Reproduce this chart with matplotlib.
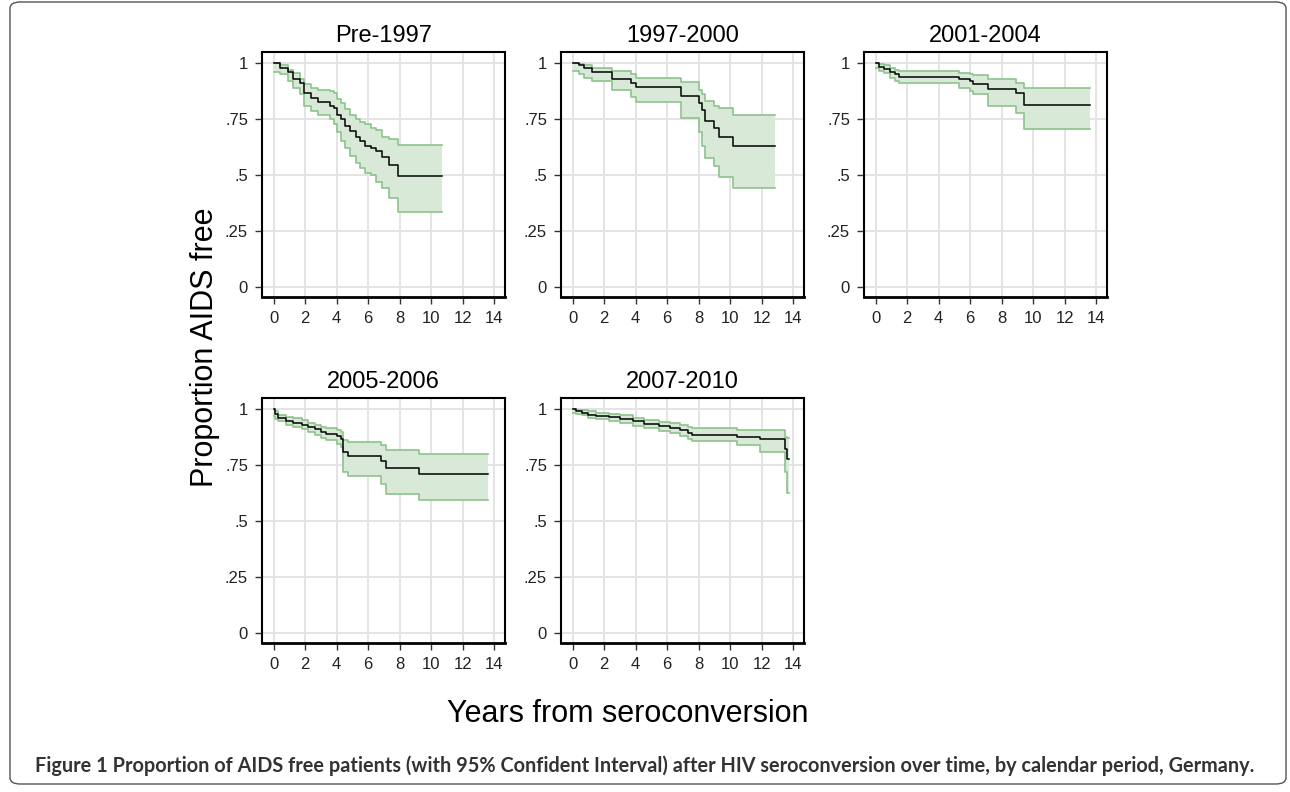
import numpy as np
import matplotlib.pyplot as plt
from matplotlib.patches import FancyBboxPatch

# Kaplan-Meier estimates (step start times, survival, 95% CI)
periods = ["Pre-1997", "1997-2000", "2001-2004", "2005-2006", "2007-2010"]

t_pre97 = [0, 0.4, 0.9, 1.25, 1.7, 1.9, 2.4, 2.8, 3.6, 3.8, 4.05, 4.3, 4.5, 4.85, 5.2, 5.5, 5.8, 6.2, 6.5, 6.9, 7.35, 7.9, 10.7]
s_pre97 = [1, 0.98, 0.96, 0.93, 0.91, 0.865, 0.845, 0.825, 0.81, 0.80, 0.77, 0.75, 0.72, 0.695, 0.67, 0.65, 0.63, 0.62, 0.605, 0.58, 0.545, 0.495, 0.495]
hi_pre97 = [1, 0.99, 0.97, 0.955, 0.93, 0.905, 0.89, 0.88, 0.875, 0.865, 0.84, 0.82, 0.795, 0.77, 0.75, 0.735, 0.73, 0.71, 0.70, 0.67, 0.66, 0.635, 0.635]
lo_pre97 = [0.96, 0.95, 0.92, 0.89, 0.86, 0.81, 0.785, 0.77, 0.75, 0.73, 0.69, 0.65, 0.62, 0.585, 0.555, 0.53, 0.51, 0.50, 0.47, 0.44, 0.395, 0.335, 0.335]

t_9700 = [0, 0.4, 0.7, 1.2, 2.5, 3.7, 4.0, 6.9, 8.0, 8.2, 8.4, 9.0, 9.3, 10.2, 12.85]
s_9700 = [1, 0.99, 0.98, 0.96, 0.93, 0.91, 0.895, 0.855, 0.82, 0.79, 0.74, 0.71, 0.67, 0.63, 0.63]
hi_9700 = [1, 0.995, 0.99, 0.98, 0.965, 0.95, 0.935, 0.915, 0.88, 0.86, 0.83, 0.81, 0.80, 0.77, 0.77]
lo_9700 = [0.965, 0.95, 0.935, 0.92, 0.88, 0.85, 0.828, 0.755, 0.69, 0.63, 0.575, 0.54, 0.49, 0.44, 0.44]

t_0104 = [0, 0.2, 0.5, 0.9, 1.2, 1.5, 5.3, 6.0, 6.2, 7.1, 8.9, 9.4, 13.6]
s_0104 = [1, 0.985, 0.975, 0.96, 0.95, 0.94, 0.93, 0.92, 0.905, 0.885, 0.865, 0.815, 0.815]
hi_0104 = [1, 0.995, 0.99, 0.98, 0.97, 0.963, 0.955, 0.95, 0.945, 0.93, 0.91, 0.89, 0.89]
lo_0104 = [0.978, 0.965, 0.955, 0.935, 0.92, 0.91, 0.89, 0.875, 0.86, 0.81, 0.775, 0.704, 0.704]

t_0506 = [0, 0.1, 0.3, 0.8, 1.2, 1.8, 2.2, 2.6, 3.0, 3.3, 4.0, 4.3, 4.4, 4.7, 6.8, 7.1, 9.2, 13.6]
s_0506 = [1, 0.98, 0.96, 0.945, 0.94, 0.93, 0.92, 0.91, 0.90, 0.89, 0.88, 0.865, 0.81, 0.79, 0.77, 0.735, 0.712, 0.712]
hi_0506 = [1, 0.99, 0.975, 0.965, 0.96, 0.95, 0.94, 0.93, 0.92, 0.915, 0.905, 0.90, 0.862, 0.855, 0.84, 0.818, 0.80, 0.80]
lo_0506 = [0.97, 0.955, 0.945, 0.93, 0.92, 0.91, 0.90, 0.885, 0.87, 0.86, 0.845, 0.83, 0.72, 0.70, 0.665, 0.622, 0.595, 0.595]

t_0710 = [0, 0.2, 0.6, 1.0, 1.5, 2.3, 3.0, 3.8, 4.5, 5.5, 6.2, 6.8, 7.3, 7.6, 10.4, 11.9, 13.45, 13.6, 13.75]
s_0710 = [1, 0.99, 0.985, 0.975, 0.97, 0.965, 0.955, 0.945, 0.935, 0.925, 0.915, 0.905, 0.895, 0.886, 0.876, 0.867, 0.82, 0.778, 0.778]
hi_0710 = [1, 0.998, 0.995, 0.99, 0.985, 0.98, 0.972, 0.962, 0.952, 0.944, 0.936, 0.928, 0.92, 0.914, 0.908, 0.905, 0.874, 0.87, 0.87]
lo_0710 = [0.982, 0.978, 0.972, 0.962, 0.955, 0.948, 0.938, 0.926, 0.915, 0.904, 0.893, 0.88, 0.868, 0.857, 0.838, 0.81, 0.72, 0.627, 0.627]

curves = [
    (t_pre97, s_pre97, hi_pre97, lo_pre97),
    (t_9700, s_9700, hi_9700, lo_9700),
    (t_0104, s_0104, hi_0104, lo_0104),
    (t_0506, s_0506, hi_0506, lo_0506),
    (t_0710, s_0710, hi_0710, lo_0710),
]

x_ticks = [0, 2, 4, 6, 8, 10, 12, 14]
y_ticks = [0, 0.25, 0.5, 0.75, 1]
y_ticklabels = ["0", ".25", ".5", ".75", "1"]

caption = ("Figure 1 Proportion of AIDS free patients (with 95% Confident Interval) "
           "after HIV seroconversion over time, by calendar period, Germany.")

W, H = 1290, 792
fig = plt.figure(figsize=(W / 100, H / 100), dpi=100)

# panel boxes in pixels: (left, top)
boxes = [(262, 52), (561, 52), (864, 52), (262, 398), (561, 398)]
bw, bh = 243, 245

main_font = ["Liberation Sans", "DejaVu Sans"]

for (left, top), name, (t, s, hi, lo) in zip(boxes, periods, curves):
    ax = fig.add_axes([left / W, 1 - (top + bh) / H, bw / W, bh / H])
    ax.fill_between(t, lo, hi, step="post", color="#d8e9d8", lw=0)
    ax.step(t, hi, where="post", color="#8cc48c", lw=1.2)
    ax.step(t, lo, where="post", color="#8cc48c", lw=1.2)
    ax.step(t, s, where="post", color="black", lw=1.1)

    ax.set_xlim(-0.74, 14.68)
    ax.set_ylim(-0.046, 1.05)
    ax.set_xticks(x_ticks)
    ax.set_yticks(y_ticks)
    ax.set_yticklabels(y_ticklabels)
    ax.grid(True, color="#e4e4e4", lw=1.4)
    ax.set_axisbelow(True)
    ax.tick_params(length=5, width=1, color="#333333", pad=5)
    ax.tick_params(axis="y", pad=5)
    for lab in ax.get_xticklabels() + ax.get_yticklabels():
        lab.set_family(main_font)
        lab.set_fontsize(12)
        lab.set_color("#222222")
    for side in ["top", "right", "left"]:
        ax.spines[side].set_linewidth(1.5)
    ax.spines["bottom"].set_linewidth(2)
    ax.set_title(name, fontsize=17, family=main_font, pad=7)

fig.text(205 / W, 1 - 347 / H, "Proportion AIDS free", rotation=90, ha="center", va="center",
         fontsize=22, family=main_font)
fig.text(628 / W, 1 - 714 / H, "Years from seroconversion", ha="center", va="center",
         fontsize=22, family=main_font)
cap = fig.text(35 / W, 1 - 766 / H, caption, ha="left", va="center", fontsize=15,
               fontweight="bold", color="#333333", family=["Lato", "DejaVu Sans"])

# shrink the caption so it spans the same width as in the original
renderer = fig.canvas.get_renderer()
width = cap.get_window_extent(renderer).width
cap.set_fontsize(15 * 1220 / width)

border = FancyBboxPatch((10 / W, 8 / H), 1276 / W, 782 / H, boxstyle="round,pad=0,rounding_size=0.008",
                        transform=fig.transFigure, fill=False, ec="#555555", lw=1)
fig.patches.append(border)

fig.savefig("out.png", dpi=100)
